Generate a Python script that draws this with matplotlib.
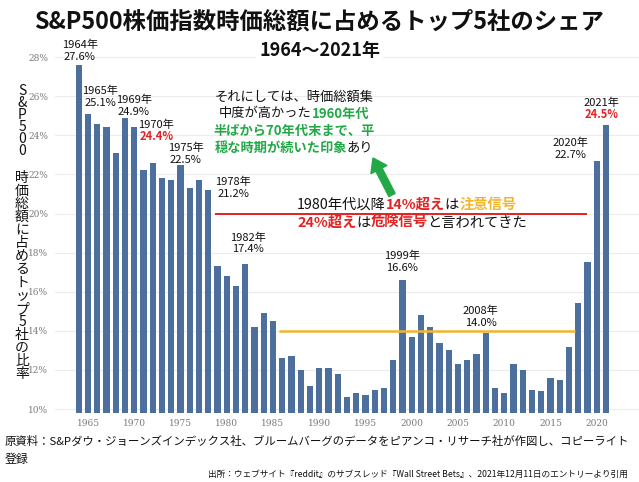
import matplotlib
matplotlib.use("Agg")
import matplotlib.pyplot as plt
from matplotlib.transforms import IdentityTransform
from matplotlib.patches import FancyArrow

plt.rcParams['font.family'] = ['Noto Sans CJK JP', 'DejaVu Sans']

# ---------------- data ----------------
years = list(range(1964, 2022))
share = [27.6, 25.1, 24.6, 24.4, 23.1, 24.9, 24.4, 22.2, 22.6, 21.8, 21.7, 22.5, 21.3, 21.7, 21.2,
         17.3, 16.8, 16.3, 17.4, 14.2, 14.9, 14.5, 12.6, 12.7, 12.0, 11.2, 12.1, 12.1, 11.8, 10.6,
         10.8, 10.7, 11.0, 11.1, 12.5,
         16.6, 13.7, 14.8, 14.2, 13.4, 13.0, 12.3, 12.5, 12.8, 13.9, 11.1, 10.8, 12.3, 12.0, 11.0,
         10.9, 11.6, 11.5, 13.2, 15.4, 17.5, 22.7, 24.5]

label_years = [1964, 1965, 1969, 1970, 1975, 1978, 1982, 1999, 2008, 2020, 2021]
label_values = ["27.6%", "25.1%", "24.9%", "24.4%", "22.5%", "21.2%", "17.4%", "16.6%", "14.0%", "22.7%", "24.5%"]
label_red = [False, False, False, True, False, False, False, False, False, False, True]
label_offsets = [(1, 8), (12, 11), (9, 6), (22, -9), (5, 5), (25, -4), (3, 15), (0, 12), (-5, 10), (-26, 6), (-4, 11)]

yticks = [10, 12, 14, 16, 18, 20, 22, 24, 26, 28]
xticks = [1965, 1970, 1975, 1980, 1985, 1990, 1995, 2000, 2005, 2010, 2015, 2020]

danger_level = 20
danger_span = (1978.7, 2019.0)
caution_level = 14
caution_span = (1985.7, 2017.65)

# ---------------- figure ----------------
W, H = 639, 482
fig = plt.figure(figsize=(W / 100, H / 100), dpi=100)
fig.patch.set_facecolor('white')

ax_l, ax_r, ax_t, ax_b = 55, 639, 50, 413
ax = fig.add_axes([ax_l / W, (H - ax_b) / H, (ax_r - ax_l) / W, (ax_b - ax_t) / H])

BAR = '#4c6f9d'
RED = '#e32222'
GREEN = '#23a847'
ORANGE = '#f2b52c'
K = '#111111'

ax.bar(years, share, width=0.66, color=BAR, zorder=2)
ax.set_xlim(1961.43, 2024.57)
ax.set_ylim(9.8, 28.36)
ax.set_yticks(yticks)
ax.set_yticklabels([f"{v}%" for v in yticks])
ax.set_xticks(xticks)
ax.set_xticklabels([str(v) for v in xticks])
for lab in ax.get_xticklabels() + ax.get_yticklabels():
    lab.set_fontfamily('DejaVu Serif')
    lab.set_fontsize(6.5)
    lab.set_color('#7a7a7a')
ax.tick_params(axis='both', length=0)
ax.tick_params(axis='y', pad=5)
ax.tick_params(axis='x', pad=4)
ax.grid(axis='y', color='#ececec', linewidth=0.8, zorder=0)
ax.set_axisbelow(True)
for s in ax.spines.values():
    s.set_visible(False)

ax.hlines(danger_level, *danger_span, color=RED, linewidth=1.4, zorder=3)
ax.hlines(caution_level, *caution_span, color=ORANGE, linewidth=1.8, zorder=3)

# bar labels
for yr, vtxt, red, (dx, dy) in zip(label_years, label_values, label_red, label_offsets):
    v = share[years.index(yr)]
    ax.annotate(vtxt, xy=(yr, v), xytext=(dx, dy), textcoords='offset pixels',
                ha='center', va='center', fontsize=8, color=RED if red else K,
                fontweight='bold' if red else 'normal', zorder=5)
    ax.annotate(f"{yr}年", xy=(yr, v), xytext=(dx, dy + 12), textcoords='offset pixels',
                ha='center', va='center', fontsize=8, color=K, zorder=5)

# ---------------- helpers (pixel coords from top-left) ----------------
renderer = fig.canvas.get_renderer()
IT = IdentityTransform()


def seg_line(x, y, segments, size, ha='center'):
    texts = []
    for s, c, w in segments:
        t = fig.text(0, 0, s, color=c, fontsize=size, fontweight=w, ha='left', va='center',
                     transform=IT, zorder=6)
        texts.append(t)
    widths = [t.get_window_extent(renderer).width for t in texts]
    start = x - sum(widths) / 2 if ha == 'center' else x
    for t, w in zip(texts, widths):
        t.set_position((start, H - y))
        start += w


def fit_text(x, y, s, width, size, ha='left', **kw):
    t = fig.text(x, H - y, s, ha=ha, va='center', fontsize=size, transform=IT, **kw)
    w = t.get_window_extent(renderer).width
    t.set_fontsize(size * width / w)
    return t


# titles
fit_text(W / 2, 22, "S&P500株価指数時価総額に占めるトップ5社のシェア", 570, 17, ha='center',
         fontweight='bold', color=K)
fig.text(0.5, 1 - 51 / H, "1964～2021年", ha='center', va='center', fontsize=13,
         fontweight='bold', color=K, bbox=dict(facecolor='white', edgecolor='none', pad=2))

# comment block
seg_line(294, 97, [("それにしては、時価総額集", K, 'normal')], 9.5)
seg_line(294, 114, [("中度が高かった", K, 'normal'), ("1960年代", GREEN, 'bold')], 9.5)
seg_line(294, 131, [("半ばから70年代末まで、平", GREEN, 'bold')], 9.5)
seg_line(294, 148, [("穏な時期が続いた印象", GREEN, 'bold'), ("あり", K, 'normal')], 9.5)

seg_line(297, 205, [("1980年代以降", K, 'normal'), ("14%超え", RED, 'bold'), ("は", K, 'normal'),
                    ("注意信号", ORANGE, 'bold')], 10.3, ha='left')
seg_line(297, 223, [("24%超え", RED, 'bold'), ("は", K, 'normal'), ("危険信号", RED, 'bold'),
                    ("と言われてきた", K, 'normal')], 10.3, ha='left')

# green arrow
tail = (392, H - 195)
tip = (373, H - 158)
arr = FancyArrow(tail[0], tail[1], tip[0] - tail[0], tip[1] - tail[1], width=7, head_width=18,
                 head_length=13, length_includes_head=True, color=GREEN,
                 transform=IT, zorder=6)
fig.patches.append(arr)

# vertical y label (stacked characters)
fig.text(22, H - 121, "\n".join("S&P500"), ha='center', va='center', ma='center', fontsize=10,
         linespacing=0.81, transform=IT, color=K)
fig.text(22, H - 276, "\n".join("時価総額に占めるトップ5社の比率"), ha='center', va='center', ma='center',
         fontsize=10, linespacing=0.92, transform=IT, color=K)

# footer
fit_text(5, 441, "原資料：S&Pダウ・ジョーンズインデックス社、ブルームバーグのデータをピアンコ・リサーチ社が作図し、コピーライト",
         624, 8.6, color=K)
fig.text(5, H - 459, "登録", ha='left', va='center', fontsize=8.6, transform=IT, color=K)
fit_text(628, 474, "出所：ウェブサイト『reddit』のサブスレッド『Wall Street Bets』、2021年12月11日のエントリーより引用",
         423, 5.6, ha='right', color=K)

fig.savefig("out.png", dpi=100)
